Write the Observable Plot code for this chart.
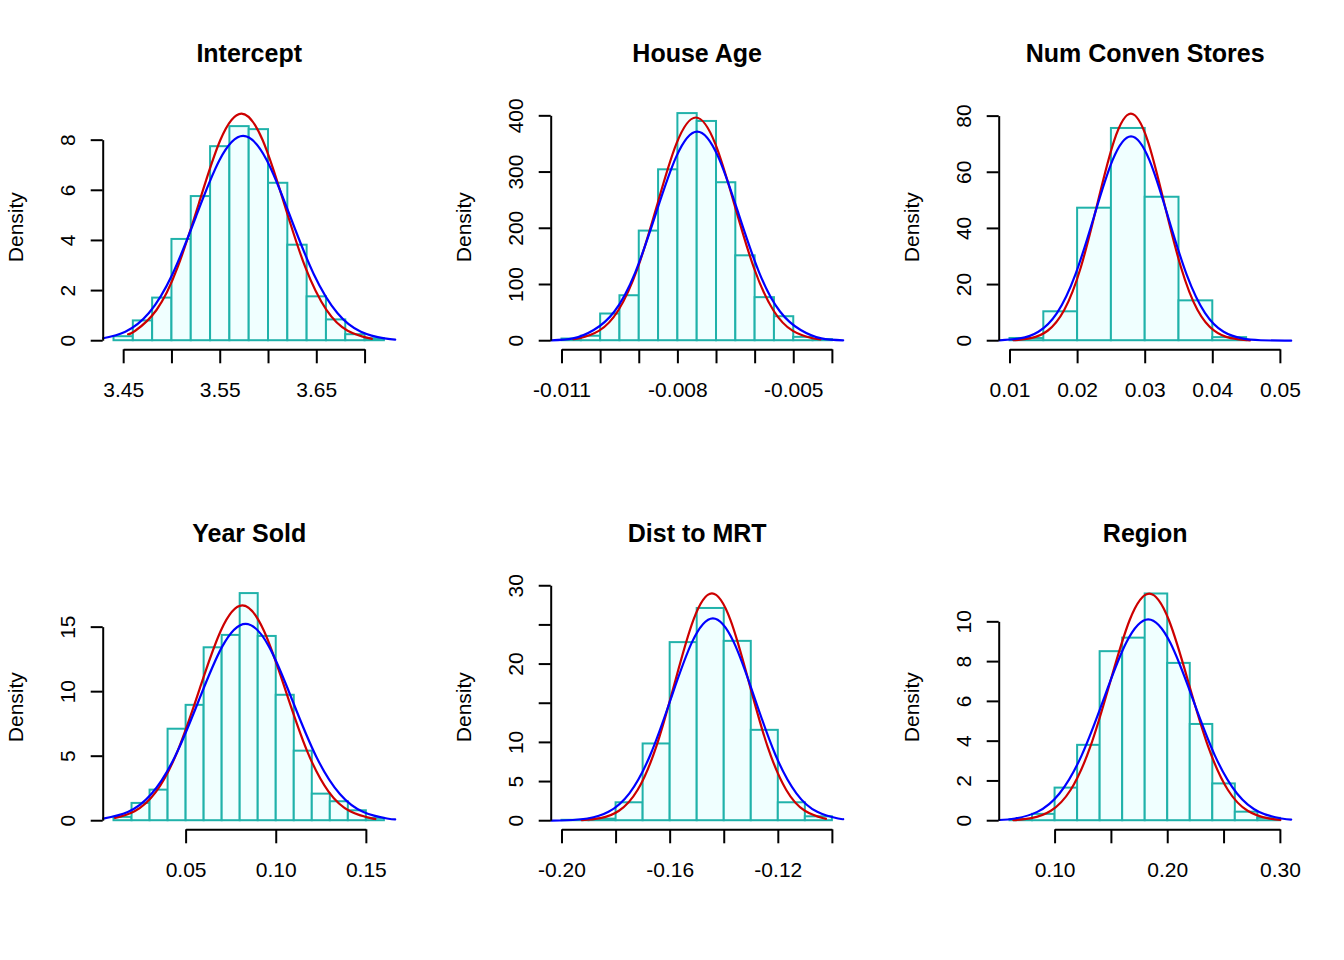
<!DOCTYPE html>
<html><head><meta charset="utf-8">
<script src="https://cdn.jsdelivr.net/npm/d3@7"></script>
<script src="https://cdn.jsdelivr.net/npm/@observablehq/plot@0.6"></script>
<style>
html,body{margin:0;padding:0;background:#fff;}
#grid{width:1344px;height:960px;display:grid;grid-template-columns:repeat(3,448px);grid-template-rows:repeat(2,480px);}
#grid svg{display:block;}
</style></head><body><div id="grid"></div>
<script>
// ---------- data ----------
const titles = ["Intercept", "House Age", "Num Conven Stores", "Year Sold", "Dist to MRT", "Region"];

// histogram break points and densities
const breaksIntercept = [3.44,3.46,3.48,3.50,3.52,3.54,3.56,3.58,3.60,3.62,3.64,3.66,3.68,3.70,3.72];
const densIntercept   = [0.16,0.79,1.70,4.04,5.75,7.74,8.54,8.42,6.28,3.81,1.75,0.83,0.24,0.08];
const breaksHouseAge  = [-0.011,-0.0105,-0.010,-0.0095,-0.009,-0.0085,-0.008,-0.0075,-0.007,-0.0065,-0.006,-0.0055,-0.005,-0.0045,-0.004];
const densHouseAge    = [3,8,47.5,80,195,304,404,390,281,151,76.6,42.7,6,2];
const breaksStores    = [0.010,0.015,0.020,0.025,0.030,0.035,0.040,0.045];
const densStores      = [0.8,10.3,47.2,75.6,51.1,14.2,1.1];
const breaksYear      = [0.01,0.02,0.03,0.04,0.05,0.06,0.07,0.08,0.09,0.10,0.11,0.12,0.13,0.14,0.15,0.16];
const densYear        = [0.26,1.34,2.37,7.09,8.94,13.4,14.36,17.6,14.28,9.72,5.39,2.06,1.47,0.77,0.18];
const breaksMRT       = [-0.20,-0.19,-0.18,-0.17,-0.16,-0.15,-0.14,-0.13,-0.12,-0.11,-0.10];
const densMRT         = [0.05,0.2,2.29,9.8,22.74,27.1,22.9,11.54,2.29,0.5];
const breaksRegion    = [0.06,0.08,0.10,0.12,0.14,0.16,0.18,0.20,0.22,0.24,0.26,0.28,0.30];
const densRegion      = [0.05,0.32,1.64,3.79,8.50,9.18,11.4,7.91,4.84,1.85,0.43,0.12];

// red curves (normal fit) [x, density]
const redIntercept = [[3.4545,0.257],[3.462,0.398],[3.484,1.226],[3.506,2.942],[3.528,5.495],[3.550,7.995],[3.572,9.06],[3.594,7.995],[3.616,5.495],[3.638,2.942],[3.660,1.226],[3.682,0.398],[3.704,0.101],[3.706,0.088]];
const redHouseAge  = [[-0.010711,2.70],[-0.010550,4.41],[-0.010048,17.43],[-0.009545,53.7],[-0.009043,128.9],[-0.008540,240.8],[-0.008038,350.4],[-0.007535,397],[-0.007033,350.4],[-0.006530,240.8],[-0.006028,128.9],[-0.005525,53.7],[-0.005023,17.43],[-0.004520,4.41],[-0.004309,2.30]];
const redStores    = [[0.0105,0.16],[0.01309,0.90],[0.01556,3.55],[0.01802,10.95],[0.02049,26.27],[0.02295,49.07],[0.02542,71.39],[0.02788,80.9],[0.03035,71.39],[0.03281,49.07],[0.03528,26.27],[0.03774,10.95],[0.04021,3.55],[0.04267,0.90],[0.0455,0.14]];
const redYear      = [[0.0106,0.215],[0.0214,0.732],[0.03336,2.257],[0.04532,5.416],[0.05728,10.12],[0.06924,14.72],[0.0812,16.68],[0.09316,14.72],[0.10512,10.12],[0.11708,5.416],[0.12904,2.257],[0.141,0.732],[0.15296,0.185],[0.1548,0.145]];
const redMRT       = [[-0.19268,0.064],[-0.1858,0.322],[-0.17893,1.274],[-0.17205,3.926],[-0.16518,9.423],[-0.1583,17.60],[-0.15143,25.61],[-0.14455,29.02],[-0.13768,25.61],[-0.1308,17.60],[-0.12393,9.423],[-0.11705,3.926],[-0.11018,1.274],[-0.1033,0.322],[-0.10275,0.286]];
const redRegion    = [[0.063,0.030],[0.07881,0.127],[0.09628,0.501],[0.11374,1.545],[0.13121,3.708],[0.14867,6.926],[0.16614,10.08],[0.1836,11.42],[0.20107,10.08],[0.21853,6.926],[0.236,3.708],[0.25346,1.545],[0.27093,0.501],[0.28839,0.127],[0.30,0.045]];

// blue curves (kernel density) [x, density]
const blueIntercept = [[3.4288,0.099],[3.4517,0.359],[3.4761,1.105],[3.5005,2.653],[3.5249,4.955],[3.5493,7.210],[3.5737,8.17],[3.5981,7.210],[3.6225,4.955],[3.6469,2.653],[3.6713,1.105],[3.6957,0.359],[3.7201,0.091],[3.7312,0.044]];
const blueHouseAge  = [[-0.01128,0.73],[-0.010716,4.13],[-0.010180,19],[-0.009644,52],[-0.009108,120.8],[-0.008572,225.6],[-0.008036,328.3],[-0.0075,372],[-0.006964,328.3],[-0.006428,225.6],[-0.005892,120.8],[-0.005356,52],[-0.004820,19],[-0.004284,4.13],[-0.00372,0.73]];
const blueStores    = [[0.0084,0.13],[0.01146,0.81],[0.0142,3.20],[0.01694,9.85],[0.01968,23.64],[0.02242,44.15],[0.02516,64.25],[0.0279,72.8],[0.03064,64.25],[0.03338,44.15],[0.03612,23.64],[0.03886,9.85],[0.0416,3.20],[0.04434,0.81],[0.04708,0.16],[0.0516,0.01]];
const blueYear      = [[0.004,0.16],[0.01763,0.670],[0.0307,2.065],[0.04378,4.955],[0.05685,9.255],[0.06993,13.47],[0.083,15.26],[0.09608,13.47],[0.10915,9.255],[0.12223,4.955],[0.1353,2.065],[0.14838,0.670],[0.16145,0.169],[0.166,0.10]];
const blueMRT       = [[-0.204,0.014],[-0.19824,0.057],[-0.19052,0.287],[-0.1828,1.134],[-0.17508,3.496],[-0.16736,8.39],[-0.15964,15.67],[-0.15192,22.80],[-0.1442,25.84],[-0.13648,22.80],[-0.12876,15.67],[-0.12104,8.39],[-0.11332,3.496],[-0.1056,1.134],[-0.09788,0.287],[-0.096,0.199]];
const blueRegion    = [[0.0504,0.036],[0.0645,0.112],[0.0842,0.444],[0.1039,1.369],[0.1236,3.286],[0.1433,6.138],[0.163,8.931],[0.1827,10.12],[0.2024,8.931],[0.2221,6.138],[0.2418,3.286],[0.2615,1.369],[0.2812,0.444],[0.3009,0.112],[0.3096,0.057]];

// axis limits (before R's 4% extension)
const xlims = [[3.44,3.72],[-0.011,-0.004],[0.01,0.05],[0.01,0.16],[-0.20,-0.10],[0.06,0.30]];
const ytops = [9.06, 404, 80.9, 17.6, 29.0, 11.42];

// ticks and labels
const xTicks = [
  [3.45,3.50,3.55,3.60,3.65,3.70],
  [-0.011,-0.010,-0.009,-0.008,-0.007,-0.006,-0.005,-0.004],
  [0.01,0.02,0.03,0.04,0.05],
  [0.05,0.10,0.15],
  [-0.20,-0.18,-0.16,-0.14,-0.12,-0.10],
  [0.10,0.15,0.20,0.25,0.30]
];
const xLabels = [
  ["3.45","3.55","3.65"],
  ["-0.011","-0.008","-0.005"],
  ["0.01","0.02","0.03","0.04","0.05"],
  ["0.05","0.10","0.15"],
  ["-0.20","-0.16","-0.12"],
  ["0.10","0.20","0.30"]
];
const yTicks = [
  [0,2,4,6,8],
  [0,100,200,300,400],
  [0,20,40,60,80],
  [0,5,10,15],
  [0,5,10,15,20,25,30],
  [0,2,4,6,8,10]
];
const yLabels = [
  ["0","2","4","6","8"],
  ["0","100","200","300","400"],
  ["0","20","40","60","80"],
  ["0","5","10","15"],
  ["0","5","10","20","30"],
  ["0","2","4","6","8","10"]
];
const yLabelText = "Density";

// ---------- drawing ----------
const allBreaks = [breaksIntercept, breaksHouseAge, breaksStores, breaksYear, breaksMRT, breaksRegion];
const allDens = [densIntercept, densHouseAge, densStores, densYear, densMRT, densRegion];
const allRed = [redIntercept, redHouseAge, redStores, redYear, redMRT, redRegion];
const allBlue = [blueIntercept, blueHouseAge, blueStores, blueYear, blueMRT, blueRegion];

const FONT = "'Liberation Sans', Arial, Helvetica, sans-serif";
const W = 448, H = 480, ML = 102.7, MR = 53.3, MT = 104, MB = 130.7;
const ext = (a, b) => [a - 0.04 * (b - a), b + 0.04 * (b - a)];

const grid = document.getElementById("grid");
titles.forEach((title, i) => {
  const xd = ext(xlims[i][0], xlims[i][1]);
  const yd = ext(0, ytops[i]);
  const br = allBreaks[i];
  const bars = allDens[i].map((h, j) => ({x1: br[j], x2: br[j + 1], h}));
  const xt = xTicks[i], yt = yTicks[i];
  const xl = xLabels[i].map(s => ({v: +s, s}));
  const yl = yLabels[i].map(s => ({v: +s, s}));
  const chart = Plot.plot({
    width: W, height: H,
    marginLeft: ML, marginRight: MR, marginTop: MT, marginBottom: MB,
    style: {fontFamily: FONT, background: "white", color: "black", overflow: "visible"},
    x: {domain: xd},
    y: {domain: yd},
    marks: [
      Plot.rect(bars, {x1: "x1", x2: "x2", y1: () => 0, y2: "h", fill: "#F0FFFF", stroke: "#20B2AA", strokeWidth: 2}),
      Plot.line(allRed[i], {x: d => d[0], y: d => d[1], stroke: "#CD0000", strokeWidth: 2.2, curve: "natural"}),
      Plot.line(allBlue[i], {x: d => d[0], y: d => d[1], stroke: "#0000FF", strokeWidth: 2.2, curve: "natural"}),
      Plot.link([{a: xt[0], b: xt[xt.length - 1], c: yd[0]}], {x1: "a", x2: "b", y1: "c", y2: "c", stroke: "black", strokeWidth: 2}),
      Plot.link([{c: xd[0], a: yt[0], b: yt[yt.length - 1]}], {x1: "c", x2: "c", y1: "a", y2: "b", stroke: "black", strokeWidth: 2}),
      Plot.axisX({ticks: xt, tickSize: 14, fill: null, label: null, stroke: "black", strokeWidth: 2}),
      Plot.axisY({ticks: yt, tickSize: 12, fill: null, label: null, stroke: "black", strokeWidth: 2}),
      Plot.text(xl, {x: "v", text: "s", frameAnchor: "bottom", dy: 40.7, fontSize: 21, textAnchor: "middle", lineAnchor: "middle", fill: "black"}),
      Plot.text(yl, {y: "v", text: "s", frameAnchor: "left", dx: -34.7, rotate: -90, fontSize: 21, textAnchor: "middle", lineAnchor: "middle", fill: "black"}),
      Plot.text([yLabelText], {text: d => d, frameAnchor: "left", dx: -86.7, rotate: -90, fontSize: 21, textAnchor: "middle", lineAnchor: "middle", fill: "black"}),
      Plot.text([title], {text: d => d, frameAnchor: "top", dy: -51, fontSize: 25, fontWeight: "bold", textAnchor: "middle", lineAnchor: "middle", fill: "black"})
    ]
  });
  grid.appendChild(chart);
});
</script>
</body></html>
